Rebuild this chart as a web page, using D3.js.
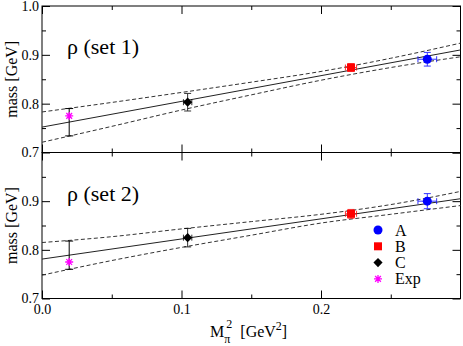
<!DOCTYPE html>
<html>
<head>
<meta charset="utf-8">
<script src="https://cdn.jsdelivr.net/npm/d3@7"></script>
<style>
  body { margin: 0; background: #fff; }
  svg text { font-family: "Liberation Serif", "DejaVu Serif", serif; }
</style>
</head>
<body>
<div id="chart"></div>
<script>
// data
var panelTitles = ["ρ (set 1)", "ρ (set 2)"];
var xTicks = [0, 0.1, 0.2];
var xMinor = [0.05, 0.15, 0.25];
var yTicks = [0.7, 0.8, 0.9, 1.0];
var yMinor = [0.75, 0.85, 0.95];

var pointNames = ["A", "B", "C"];
var pointColors = ["#0000ff", "#ff0000", "#000000"];
var pointMpi2 = [0.2762, 0.2215, 0.1044];
var pointMpi2Err = [0.0067, 0.004, 0.003];
var set1Mass = [0.891, 0.874, 0.803];
var set1Err = [0.014, 0.008, 0.018];
var set2Mass = [0.900, 0.874, 0.825];
var set2Err = [0.0155, 0.009, 0.019];

var expMpi2 = 0.0195;
var expMass = [0.775, 0.775];
var extrapLow = [0.734, 0.760];
var extrapHigh = [0.790, 0.818];

var fitX = [0, 0.3];
var set1Fit = [0.752, 0.910];
var set2Fit = [0.781, 0.905];

var bandX = [0, 0.05, 0.1, 0.15, 0.2, 0.25, 0.3];
var set1Upper = [0.783, 0.8025, 0.823, 0.844, 0.866, 0.893, 0.924];
var set1Lower = [0.721, 0.7535, 0.787, 0.818, 0.848, 0.874, 0.896];
var set2Upper = [0.815, 0.827, 0.843, 0.858, 0.873, 0.893, 0.920];
var set2Lower = [0.748, 0.778, 0.805, 0.830, 0.855, 0.873, 0.891];

var legendNames = ["A", "B", "C", "Exp"];
var legendColors = ["#0000ff", "#ff0000", "#000000", "#ff00ff"];

var width = 463, height = 346;
var left = 42, right = 460.5;
var panelTop = [6, 152.5], panelBottom = [152.5, 298.5];
var serif = "'Liberation Serif', 'DejaVu Serif', serif";

var svg = d3.select("#chart").append("svg")
    .attr("width", width)
    .attr("height", height);

var x = d3.scaleLinear().domain([0, 0.3]).range([left, right]);

var masses = [set1Mass, set2Mass], errs = [set1Err, set2Err];
var fits = [set1Fit, set2Fit];
var uppers = [set1Upper, set2Upper], lowers = [set1Lower, set2Lower];

function marker(g, shape, color, cx, cy) {
  if (shape == "A") {
    g.append("circle").attr("cx", cx).attr("cy", cy).attr("r", 4.5).attr("fill", color);
  } else if (shape == "B") {
    g.append("rect").attr("x", cx - 4).attr("y", cy - 4).attr("width", 8).attr("height", 8).attr("fill", color);
  } else if (shape == "C") {
    g.append("path").attr("d", d3.symbol(d3.symbolSquare, 42)())
      .attr("transform", "translate(" + cx + "," + cy + ") rotate(45)").attr("fill", color);
  } else {
    var r = 4;
    var d = "M" + (-r) + ",0H" + r + "M0," + (-r) + "V" + r +
      "M" + (-r * 0.72) + "," + (-r * 0.72) + "L" + (r * 0.72) + "," + (r * 0.72) +
      "M" + (-r * 0.72) + "," + (r * 0.72) + "L" + (r * 0.72) + "," + (-r * 0.72);
    g.append("path").attr("d", d).attr("transform", "translate(" + cx + "," + cy + ")")
      .attr("stroke", color).attr("stroke-width", 1.3).attr("fill", "none");
  }
}

panelTitles.forEach(function(title, p) {
  var y = d3.scaleLinear().domain([0.7, 1.0]).range([panelBottom[p], panelTop[p]]);
  var g = svg.append("g");

  // axes, ticks pointing inward
  var ax = [
    [d3.axisLeft(y).tickValues(p == 1 ? yTicks.slice(0, 3) : yTicks).tickSize(-8).tickPadding(3).tickFormat(d3.format(".1f")), "translate(" + left + ",0)"],
    [d3.axisLeft(y).tickValues(yMinor).tickSize(-4).tickFormat(""), "translate(" + left + ",0)"],
    [d3.axisRight(y).tickValues(yTicks).tickSize(-8).tickFormat(""), "translate(" + right + ",0)"],
    [d3.axisRight(y).tickValues(yMinor).tickSize(-4).tickFormat(""), "translate(" + right + ",0)"],
    [d3.axisTop(x).tickValues(xTicks).tickSize(-8).tickFormat(""), "translate(0," + panelTop[p] + ")"],
    [d3.axisTop(x).tickValues(xMinor).tickSize(-4).tickFormat(""), "translate(0," + panelTop[p] + ")"],
    [d3.axisBottom(x).tickValues(xTicks).tickSize(-8).tickFormat(p == 1 ? d3.format(".1f") : "").tickPadding(6), "translate(0," + panelBottom[p] + ")"],
    [d3.axisBottom(x).tickValues(xMinor).tickSize(-4).tickFormat(""), "translate(0," + panelBottom[p] + ")"]
  ];
  ax.forEach(function(a) {
    var ag = g.append("g").attr("transform", a[1]).call(a[0])
      .attr("font-family", serif).attr("font-size", 14);
    ag.select(".domain").remove();
    ag.selectAll("line").attr("stroke", "#000");
    ag.selectAll("text").attr("fill", "#000");
  });

  g.append("rect")
    .attr("x", left).attr("y", panelTop[p])
    .attr("width", right - left).attr("height", panelBottom[p] - panelTop[p])
    .attr("fill", "none").attr("stroke", "#000").attr("stroke-width", 1);

  // fit line and error band
  var line = d3.line().x(function(d) { return x(d[0]); }).y(function(d) { return y(d[1]); });
  g.append("path").attr("d", line(d3.zip(fitX, fits[p])))
    .attr("fill", "none").attr("stroke", "#222").attr("stroke-width", 1);
  var band = d3.line().curve(d3.curveMonotoneX).x(function(d) { return x(d[0]); }).y(function(d) { return y(d[1]); });
  [uppers[p], lowers[p]].forEach(function(arr) {
    g.append("path").attr("d", band(d3.zip(bandX, arr)))
      .attr("fill", "none").attr("stroke", "#333").attr("stroke-width", 1)
      .attr("stroke-dasharray", "4,2.5");
  });

  // extrapolated value at the physical point
  var ex = x(expMpi2);
  g.append("line").attr("x1", ex).attr("x2", ex).attr("y1", y(extrapLow[p])).attr("y2", y(extrapHigh[p])).attr("stroke", "#000");
  [extrapLow[p], extrapHigh[p]].forEach(function(v) {
    g.append("line").attr("x1", ex - 4).attr("x2", ex + 4).attr("y1", y(v)).attr("y2", y(v)).attr("stroke", "#000");
  });

  // lattice points with errors
  pointNames.forEach(function(name, i) {
    var cx = x(pointMpi2[i]), cy = y(masses[p][i]);
    var col = pointColors[i];
    var y0 = y(masses[p][i] - errs[p][i]), y1 = y(masses[p][i] + errs[p][i]);
    var x0 = x(pointMpi2[i] - pointMpi2Err[i]), x1 = x(pointMpi2[i] + pointMpi2Err[i]);
    var eb = g.append("g").attr("stroke", col).attr("stroke-width", 1).attr("opacity", 0.8);
    eb.append("line").attr("x1", cx).attr("x2", cx).attr("y1", y0).attr("y2", y1);
    eb.append("line").attr("x1", cx - 3.5).attr("x2", cx + 3.5).attr("y1", y0).attr("y2", y0);
    eb.append("line").attr("x1", cx - 3.5).attr("x2", cx + 3.5).attr("y1", y1).attr("y2", y1);
    eb.append("line").attr("x1", x0).attr("x2", x1).attr("y1", cy).attr("y2", cy);
    eb.append("line").attr("x1", x0).attr("x2", x0).attr("y1", cy - 3).attr("y2", cy + 3);
    eb.append("line").attr("x1", x1).attr("x2", x1).attr("y1", cy - 3).attr("y2", cy + 3);
    marker(g, name, col, cx, cy);
  });

  marker(g, "Exp", "#ff00ff", x(expMpi2), y(expMass[p]));

  g.append("text")
    .attr("x", 67).attr("y", panelTop[p] + 48)
    .attr("font-family", serif).attr("font-size", 22)
    .text(title);

  g.append("text")
    .attr("transform", "translate(17," + ((panelTop[p] + panelBottom[p]) / 2) + ") rotate(-90)")
    .attr("text-anchor", "middle")
    .attr("font-family", serif).attr("font-size", 16)
    .text("mass [GeV]");
});

// legend
var legend = svg.selectAll(".legend")
  .data(legendNames)
  .enter().append("g")
  .attr("class", "legend")
  .attr("transform", function(d, i) { return "translate(378," + (230 + i * 16.3) + ")"; });

legend.each(function(d, i) { marker(d3.select(this), d, legendColors[i], 0, 0); });
legend.append("text")
  .attr("x", 17).attr("y", 5.5)
  .attr("font-family", serif).attr("font-size", 16)
  .text(function(d) { return d; });

// x axis title
var xt = svg.append("text").attr("x", 210).attr("y", 337)
  .attr("font-family", serif).attr("font-size", 16);
xt.append("tspan").text("M");
xt.append("tspan").attr("dy", 6).attr("font-size", 12).text("π");
xt.append("tspan").attr("dx", -4).attr("dy", -15).attr("font-size", 12).text("2");
xt.append("tspan").attr("dx", 8).attr("dy", 9).text("[GeV");
xt.append("tspan").attr("dy", -7).attr("font-size", 12).text("2");
xt.append("tspan").attr("dy", 7).text("]");
</script>
</body>
</html>
